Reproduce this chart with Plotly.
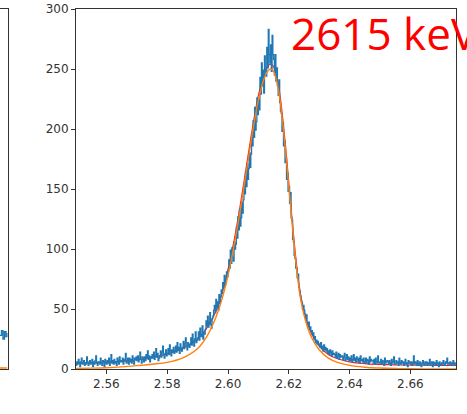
import numpy as np
import plotly.graph_objects as go

# ---- data ----
bin_start = 2.55
bin_width = 0.00025
counts = (
    [3,6,4,8,5,2,6,9,4,5] + [7,3,5,4,10,6,3,5,7,4] + [5,8,2,6,4,7,11,5,3,6] + [6,4,9,5,3,7,6,2,8,5]
    + [4,7,5,9,3,6,12,5,7,4] + [8,5,6,3,9,7,4,10,6,7] + [6,9,4,8,7,13,5,6,9,4] + [9,6,8,5,11,7,4,9,8,10]
    + [7,11,6,9,14,8,5,10,9,6] + [10,7,12,9,15,8,11,6,10,9] + [12,9,14,8,11,17,10,13,7,9]
    + [11,15,10,14,19,12,9,13,16,11]
    + [13,17,12,20,15,11,16,14,18,13] + [15,19,14,22,16,18,13,21,17,15] + [18,23,17,21,26,19,16,22,20,18]
    + [21,26,20,29,23,19,25,31,22,24]
    + [26,31,24,34,28,27,36,25,30,29] + [33,40,36,44,35,39,47,37,34,42] + [44,49,53,47,58,51,56,49,62,55]
    + [60,66,63,72,68,78,70,75,81,77]
    + [82,91,84,99,88,101,93,90,106,100] + [104,118,109,127,116,133,119,126,139,130]
    + [141,153,146,164,152,171,158,167,180,168] + [179,196,186,207,193,218,199,206,226,212]
    + [224,216,243,229,255,236,249,230,261,248] + [244,268,251,283,262,255,270,248,278,262]
    + [258,245,262,240,251,236,228,241,222,215] + [213,198,205,186,190,172,176,158,163,148]
    + [152,138,147,126,124,108,106,95,92,84] + [84,76,79,68,65,61,57,55,50,53]
    + [49,46,42,45,38,36,39,33,35,31] + [32,28,30,25,27,22,24,21,23,20]
    + [21,18,22,17,19,15,20,16,18,15] + [17,13,15,12,16,14,11,15,12,13] + [12,10,14,9,11,13,8,12,10,11]
    + [11,8,10,13,7,9,12,8,10,7]
    + [9,7,11,6,8,12,7,9,6,10] + [8,6,9,5,11,7,8,6,9,5] + [6,9,5,8,7,4,10,6,8,7] + [7,5,8,4,9,6,5,11,6,5]
    + [5,8,4,7,6,3,9,5,6,7] + [6,4,7,5,3,8,5,6,10,4] + [4,7,5,6,3,9,5,4,7,5] + [6,3,5,8,4,5,2,7,5,6]
    + [4,6,3,5,11,4,6,5,3,7] + [5,3,6,4,2,5,7,4,3,6] + [4,6,3,5,4,8,3,5,6,2] + [6,4,5,3,7,4,5,2,6,4]
    + [3,5,4,7,4,3,6,5,9,4] + [5,4,6,3,5,4,7,3,5,4]
)
fit_x = [2.550,2.555,2.560,2.565,2.570,2.575,2.580,2.585,2.590,2.593,2.596,2.598,2.600,
         2.602,2.604,2.606,2.608,2.610,2.612,2.613,2.614,2.615,2.616,2.617,2.618,2.619,
         2.620,2.621,2.622,2.623,2.624,2.625,2.627,2.630,2.633,2.636,2.640,2.645,2.650,
         2.655,2.660,2.668,2.675]
fit_peak = [0.4,0.7,1.1,1.8,2.8,4.0,5.5,9,17,27,43,58,78,103,132,164,196,224,243,248,250,
            248,240,226,205,180,152,124,97,74,57,45,29,16,9,5.5,3,1.5,0.8,0.4,0.2,0.1,0.05]
fit_total = [4.9,5.2,5.7,6.4,7.6,9.5,12.5,17,25,34,48,63,83,107,136,168,200,228,
             247,252,254,252,244,230,209,184,155,127,100,77,60,48,32,19,12,8.5,6,4.5,3.8,
             3.4,3.2,3.1,3.05]
x_ticks = [2.56, 2.58, 2.60, 2.62, 2.64, 2.66]
y_ticks = [0, 50, 100, 150, 200, 250, 300]
label = "2615 keV"

# neighbouring (cut-off) panel
prev_x = [0.0, 0.2, 0.4, 0.6, 0.8, 1.0]
prev_counts = [28, 32, 25, 31, 27, 30]
prev_fit = [0.8, 0.8, 0.8, 0.8, 0.8, 0.8]

edges = bin_start + bin_width * np.arange(len(counts) + 1)
step_y = counts + [counts[-1]]

fig = go.Figure()
fig.add_trace(go.Scatter(x=fit_x, y=fit_total, mode="lines", line=dict(color="#ff1a1a", width=1.2, shape="spline"),
                         xaxis="x", yaxis="y"))
fig.add_trace(go.Scatter(x=edges, y=step_y, mode="lines", line=dict(color="#1f77b4", width=1.3, shape="hv"),
                         xaxis="x", yaxis="y"))
fig.add_trace(go.Scatter(x=fit_x, y=fit_peak, mode="lines", line=dict(color="#ff7f0e", width=1.4, shape="spline"),
                         xaxis="x", yaxis="y"))

fig.add_trace(go.Scatter(x=prev_x, y=prev_counts, mode="lines", line=dict(color="#1f77b4", width=1.4, shape="hv"),
                         xaxis="x2", yaxis="y2"))
fig.add_trace(go.Scatter(x=prev_x, y=prev_fit, mode="lines", line=dict(color="#ff7f0e", width=1.4),
                         xaxis="x2", yaxis="y2"))

W, H = 467, 414
ax_common = dict(showgrid=False, zeroline=False, showline=True, linecolor="#333", linewidth=1, mirror=True)
fig.update_layout(
    width=W, height=H, margin=dict(l=0, r=0, t=0, b=0, autoexpand=False),
    paper_bgcolor="white", plot_bgcolor="white", showlegend=False,
    font=dict(family="DejaVu Sans", size=12, color="#333"),
    xaxis=dict(domain=[76 / W, 456 / W], range=[2.55, 2.675], tickvals=x_ticks,
               ticktext=[f"{v:.2f}" for v in x_ticks], ticks="outside", ticklen=4,
               tickcolor="#333", anchor="y", **ax_common),
    yaxis=dict(domain=[(H - 369) / H, (H - 9) / H], range=[0, 300], tickvals=y_ticks,
               ticks="outside", ticklen=4, tickcolor="#333", anchor="x", **ax_common),
    xaxis2=dict(domain=[0, 7.5 / W], range=[0, 1], showticklabels=False, ticks="",
                anchor="y2", **ax_common),
    yaxis2=dict(domain=[(H - 369) / H, (H - 9) / H], range=[0, 300], showticklabels=False,
                ticks="", anchor="x2", **ax_common),
)
fig.add_annotation(text=label, xref="paper", yref="paper", x=289 / W, y=(H - 33) / H,
                   xanchor="left", yanchor="middle", showarrow=False,
                   font=dict(family="Open Sans", size=44, color="#ff0000"))
fig.write_html("out.html", config={"displayModeBar": False},
               post_script="document.body.style.margin='0';document.body.style.overflow='hidden';")
